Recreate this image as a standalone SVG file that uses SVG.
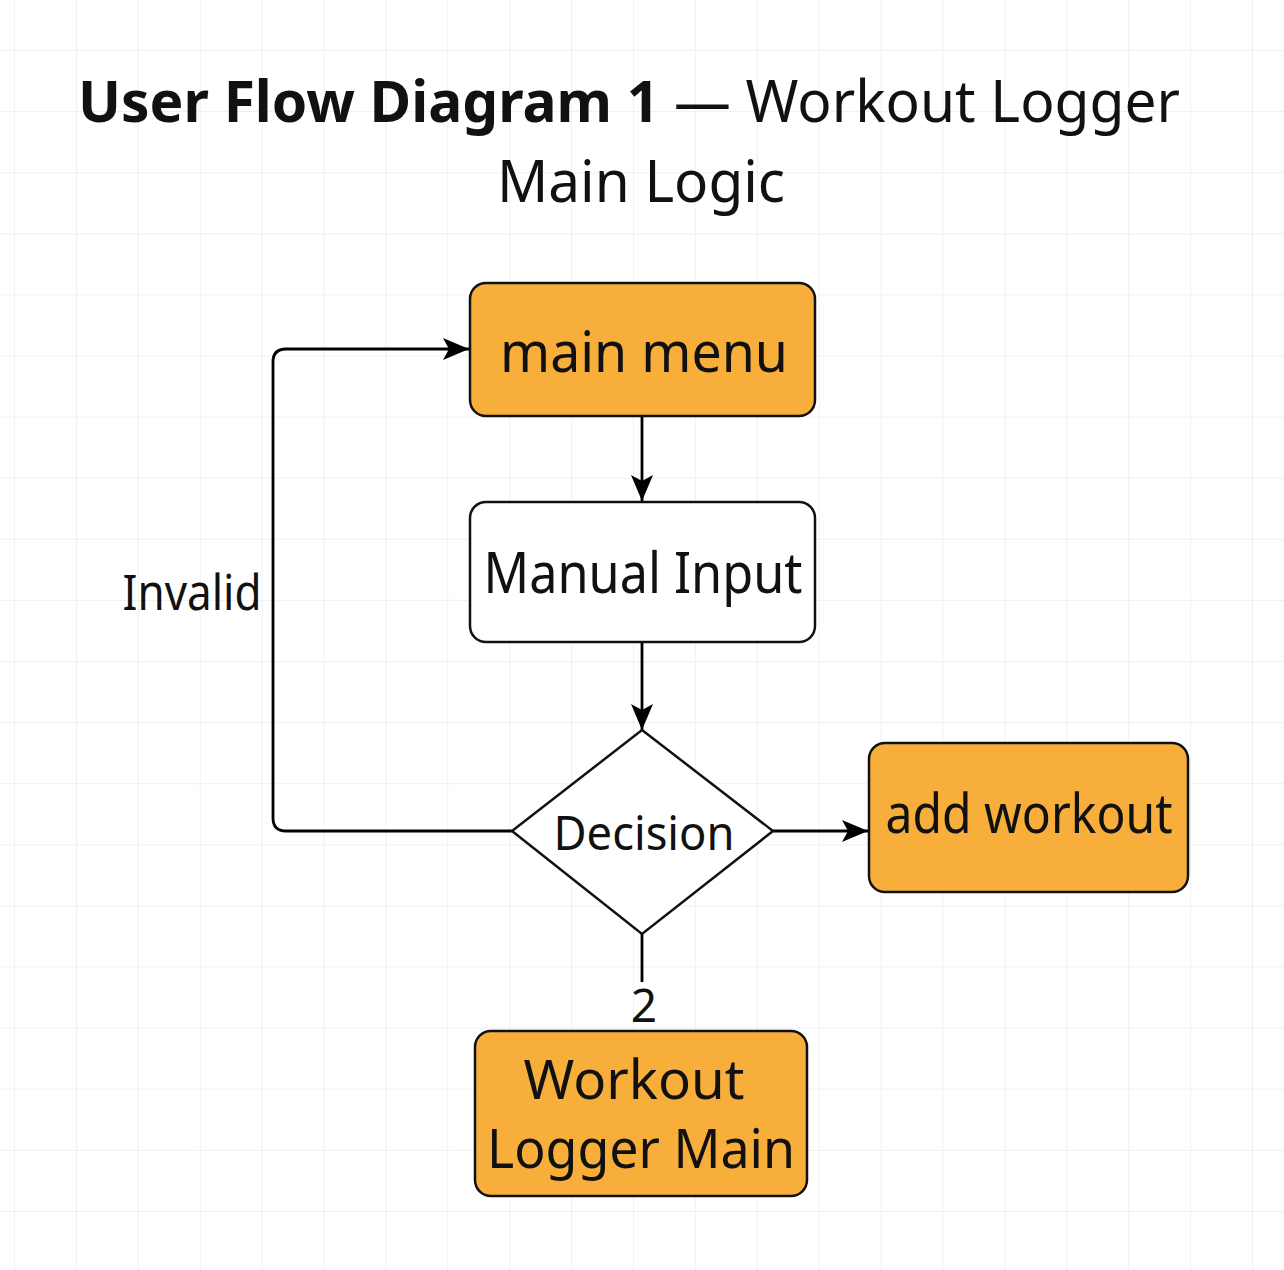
<svg xmlns="http://www.w3.org/2000/svg" width="1284" height="1270" viewBox="0 0 1284 1270">
<defs>
<pattern id="grid" x="14" y="50" width="61.9" height="61.1" patternUnits="userSpaceOnUse">
<path d="M0 0 H61.9 M0 0 V61.1" fill="none" stroke="#ececec" stroke-width="1.5"/>
</pattern>
<marker id="arrow" viewBox="0 0 26 22" refX="26" refY="11" markerWidth="26" markerHeight="22" markerUnits="userSpaceOnUse" orient="auto">
<path d="M0 0 L26 11 L0 22 L6 11 Z" fill="#000"/>
</marker>
</defs>
<style>
.t{font-family:"Noto Sans","Open Sans","DejaVu Sans",sans-serif;fill:#111;text-anchor:middle}
.box{stroke:#111;stroke-width:2.5}
.or{fill:#F7AE3B}
.wh{fill:#fff}
.c{fill:none;stroke:#000;stroke-width:2.8}
</style>
<rect width="1284" height="1270" fill="#fff"/>
<rect width="1284" height="1270" fill="url(#grid)"/>
<g id="title">
<text class="t" x="629" y="122" font-size="58" textLength="1102" lengthAdjust="spacingAndGlyphs"><tspan font-weight="bold">User Flow Diagram 1</tspan> — Workout Logger</text>
<text class="t" x="641" y="202" font-size="58" textLength="288" lengthAdjust="spacingAndGlyphs">Main Logic</text>
</g>
<g id="connectors">
<line class="c" x1="642" y1="416" x2="642" y2="501" marker-end="url(#arrow)"/>
<line class="c" x1="642" y1="642" x2="642" y2="730" marker-end="url(#arrow)"/>
<line class="c" x1="773" y1="831" x2="868" y2="831" marker-end="url(#arrow)"/>
<path class="c" d="M512 831 H286 Q273 831 273 818 V362 Q273 349 286 349 H469" marker-end="url(#arrow)"/>
<line class="c" x1="642" y1="934" x2="642" y2="982"/>
<text class="t" x="644" y="1022" font-size="46">2</text>
<text class="t" x="192" y="610" font-size="50" textLength="139" lengthAdjust="spacingAndGlyphs">Invalid</text>
</g>
<g id="main-menu">
<rect class="box or" x="470" y="283" width="345" height="133" rx="16"/>
<text class="t" x="644" y="372" font-size="56" textLength="288" lengthAdjust="spacingAndGlyphs">main menu</text>
</g>
<g id="manual-input">
<rect class="box wh" x="470" y="502" width="345" height="140" rx="16"/>
<text class="t" x="643" y="593" font-size="56" textLength="319" lengthAdjust="spacingAndGlyphs">Manual Input</text>
</g>
<g id="decision">
<path class="box wh" d="M642 730 L773 831 L642 934 L512 831 Z"/>
<text class="t" x="644" y="850" font-size="48" textLength="181" lengthAdjust="spacingAndGlyphs">Decision</text>
</g>
<g id="add-workout">
<rect class="box or" x="869" y="743" width="319" height="149" rx="16"/>
<text class="t" x="1029" y="833" font-size="54" textLength="287" lengthAdjust="spacingAndGlyphs">add workout</text>
</g>
<g id="workout-logger-main">
<rect class="box or" x="475" y="1031" width="332" height="165" rx="16"/>
<text class="t" x="634" y="1099" font-size="54" textLength="221" lengthAdjust="spacingAndGlyphs">Workout</text>
<text class="t" x="641" y="1168" font-size="54" textLength="308" lengthAdjust="spacingAndGlyphs">Logger Main</text>
</g>
</svg>
